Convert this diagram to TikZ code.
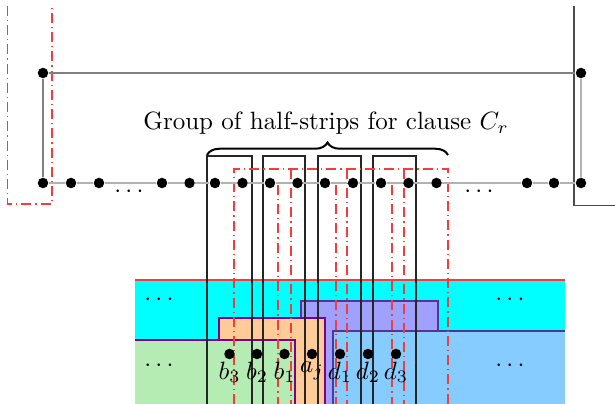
\documentclass[tikz,border=0pt]{standalone}
\usetikzlibrary{decorations.pathreplacing}
\definecolor{regcyan}{RGB}{0,255,255}
\definecolor{reggreen}{RGB}{180,236,180}
\definecolor{regorange}{RGB}{255,204,153}
\definecolor{regpurple}{RGB}{160,160,255}
\definecolor{regblue}{RGB}{135,204,255}
\definecolor{edgeviolet}{RGB}{128,0,128}
\definecolor{edgeslate}{RGB}{90,50,150}
\definecolor{stripred}{RGB}{245,60,60}
\begin{document}
\begin{tikzpicture}[x=0.4pt,y=-0.4pt,
  vtx/.style={circle,fill=black,inner sep=0pt,minimum size=4.2pt},
  lbl/.style={inner sep=0.6pt},
  halfstrip/.style={draw=black!85,line width=0.5pt},
  redstrip/.style={draw=stripred,line width=0.6pt,
    dash pattern=on 4pt off 1.6pt on 0.5pt off 1.6pt},
  rowline/.style={draw=black!30,line width=0.8pt},
  thinline/.style={draw=black!50,line width=0.5pt},
  frameline/.style={draw=black!70,line width=0.6pt},
  regionedge/.style={draw=edgeviolet,line width=0.5pt},
  slateedge/.style={draw=edgeslate,line width=0.5pt}]
\useasboundingbox (0,0) rectangle (615,404);

% coloured regions of the lower part
\fill[regcyan] (135,280) rectangle (565,404);
\draw[stripred,line width=0.6pt] (135,280) -- (565,280);
\fill[regpurple] (301,301) rectangle (438,404);
\draw[slateedge] (301,404) -- (301,301) -- (438,301) -- (438,331);
\fill[regblue] (333,331) rectangle (565,404);
\draw[slateedge] (333,404) -- (333,331) -- (565,331);
\fill[regorange] (219,318) rectangle (325,404);
\draw[regionedge] (219,404) -- (219,318) -- (325,318) -- (325,404);
\fill[reggreen] (135,340) rectangle (295,404);
\draw[regionedge] (135,340) -- (295,340) -- (295,404);

% half-strips of the clause group
\draw[halfstrip] (207,404) -- (207,156) -- (252,156) -- (252,404);
\draw[halfstrip] (263,404) -- (263,156) -- (305,156) -- (305,404);
\draw[halfstrip] (318,404) -- (318,156) -- (361,156) -- (361,404);
\draw[halfstrip] (373,404) -- (373,156) -- (416,156) -- (416,404);
\coordinate (braceL) at (207,155);
\coordinate (braceR) at (448,155);
\draw[line width=0.8pt,decorate,decoration={brace,amplitude=5pt}] (braceL) -- (braceR);
\node[anchor=base] (title) at (326,130) {Group of half-strips for clause $C_r$};

% dash-dotted strips
\draw[redstrip] (234,404) -- (234,169) -- (448,169) -- (448,404);
\draw[redstrip] (291,169) -- (291,404);
\draw[redstrip] (347,169) -- (347,404);
\draw[redstrip] (404,169) -- (404,404);
\draw[redstrip] (278,185) -- (278,404);
\draw[redstrip] (336,185) -- (336,404);
\draw[redstrip] (392,185) -- (392,404);
\draw[redstrip] (7.5,6) -- (7.5,204) -- (52,204) -- (52,6);

% outer frame on the right
\draw[frameline] (574,6) -- (574,205.5) -- (615,205.5);

% vertices
\node[vtx] (tl) at (43,73) {};
\node[vtx] (tr) at (581,73) {};
\foreach \i/\x in {1/43,2/71,3/99,4/162,5/189.5,6/215,7/242.5,8/270,9/297.5,
                   10/325,11/353,12/381,13/408.5,14/436.5,15/527,16/554,17/581}
  \node[vtx] (p\i) at (\x,183) {};
\node (gapA) at (129,192) {$\cdots$};
\node (gapB) at (479,192) {$\cdots$};

% connectors
\draw[thinline] (tl) -- (tr);
\draw[thinline] (tl) -- (p1);
\draw[rowline] (tr) -- (p17);
\foreach \a/\b in {1/2,2/3,3/4,4/5,5/6,6/7,7/8,8/9,9/10,10/11,11/12,12/13,13/14,14/15,15/16,16/17}
  \draw[rowline] (p\a) -- (p\b);

% points of the lower part
\node[vtx,label={[lbl]below:$b_3$}] (b3) at (229.5,354) {};
\node[vtx,label={[lbl]below:$b_2$}] (b2) at (257,354) {};
\node[vtx,label={[lbl]below:$b_1$}] (b1) at (284.5,354) {};
\node[vtx,label={[lbl]below:$a_j$}] (aj) at (312,354) {};
\node[vtx,label={[lbl]below:$d_1$}] (d1) at (340,354) {};
\node[vtx,label={[lbl]below:$d_2$}] (d2) at (368,354) {};
\node[vtx,label={[lbl]below:$d_3$}] (d3) at (396,354) {};

\node (dotsUL) at (159,300) {$\cdots$};
\node (dotsUR) at (510,300) {$\cdots$};
\node (dotsLL) at (159,366) {$\cdots$};
\node (dotsLR) at (510,366) {$\cdots$};
\end{tikzpicture}
\end{document}
